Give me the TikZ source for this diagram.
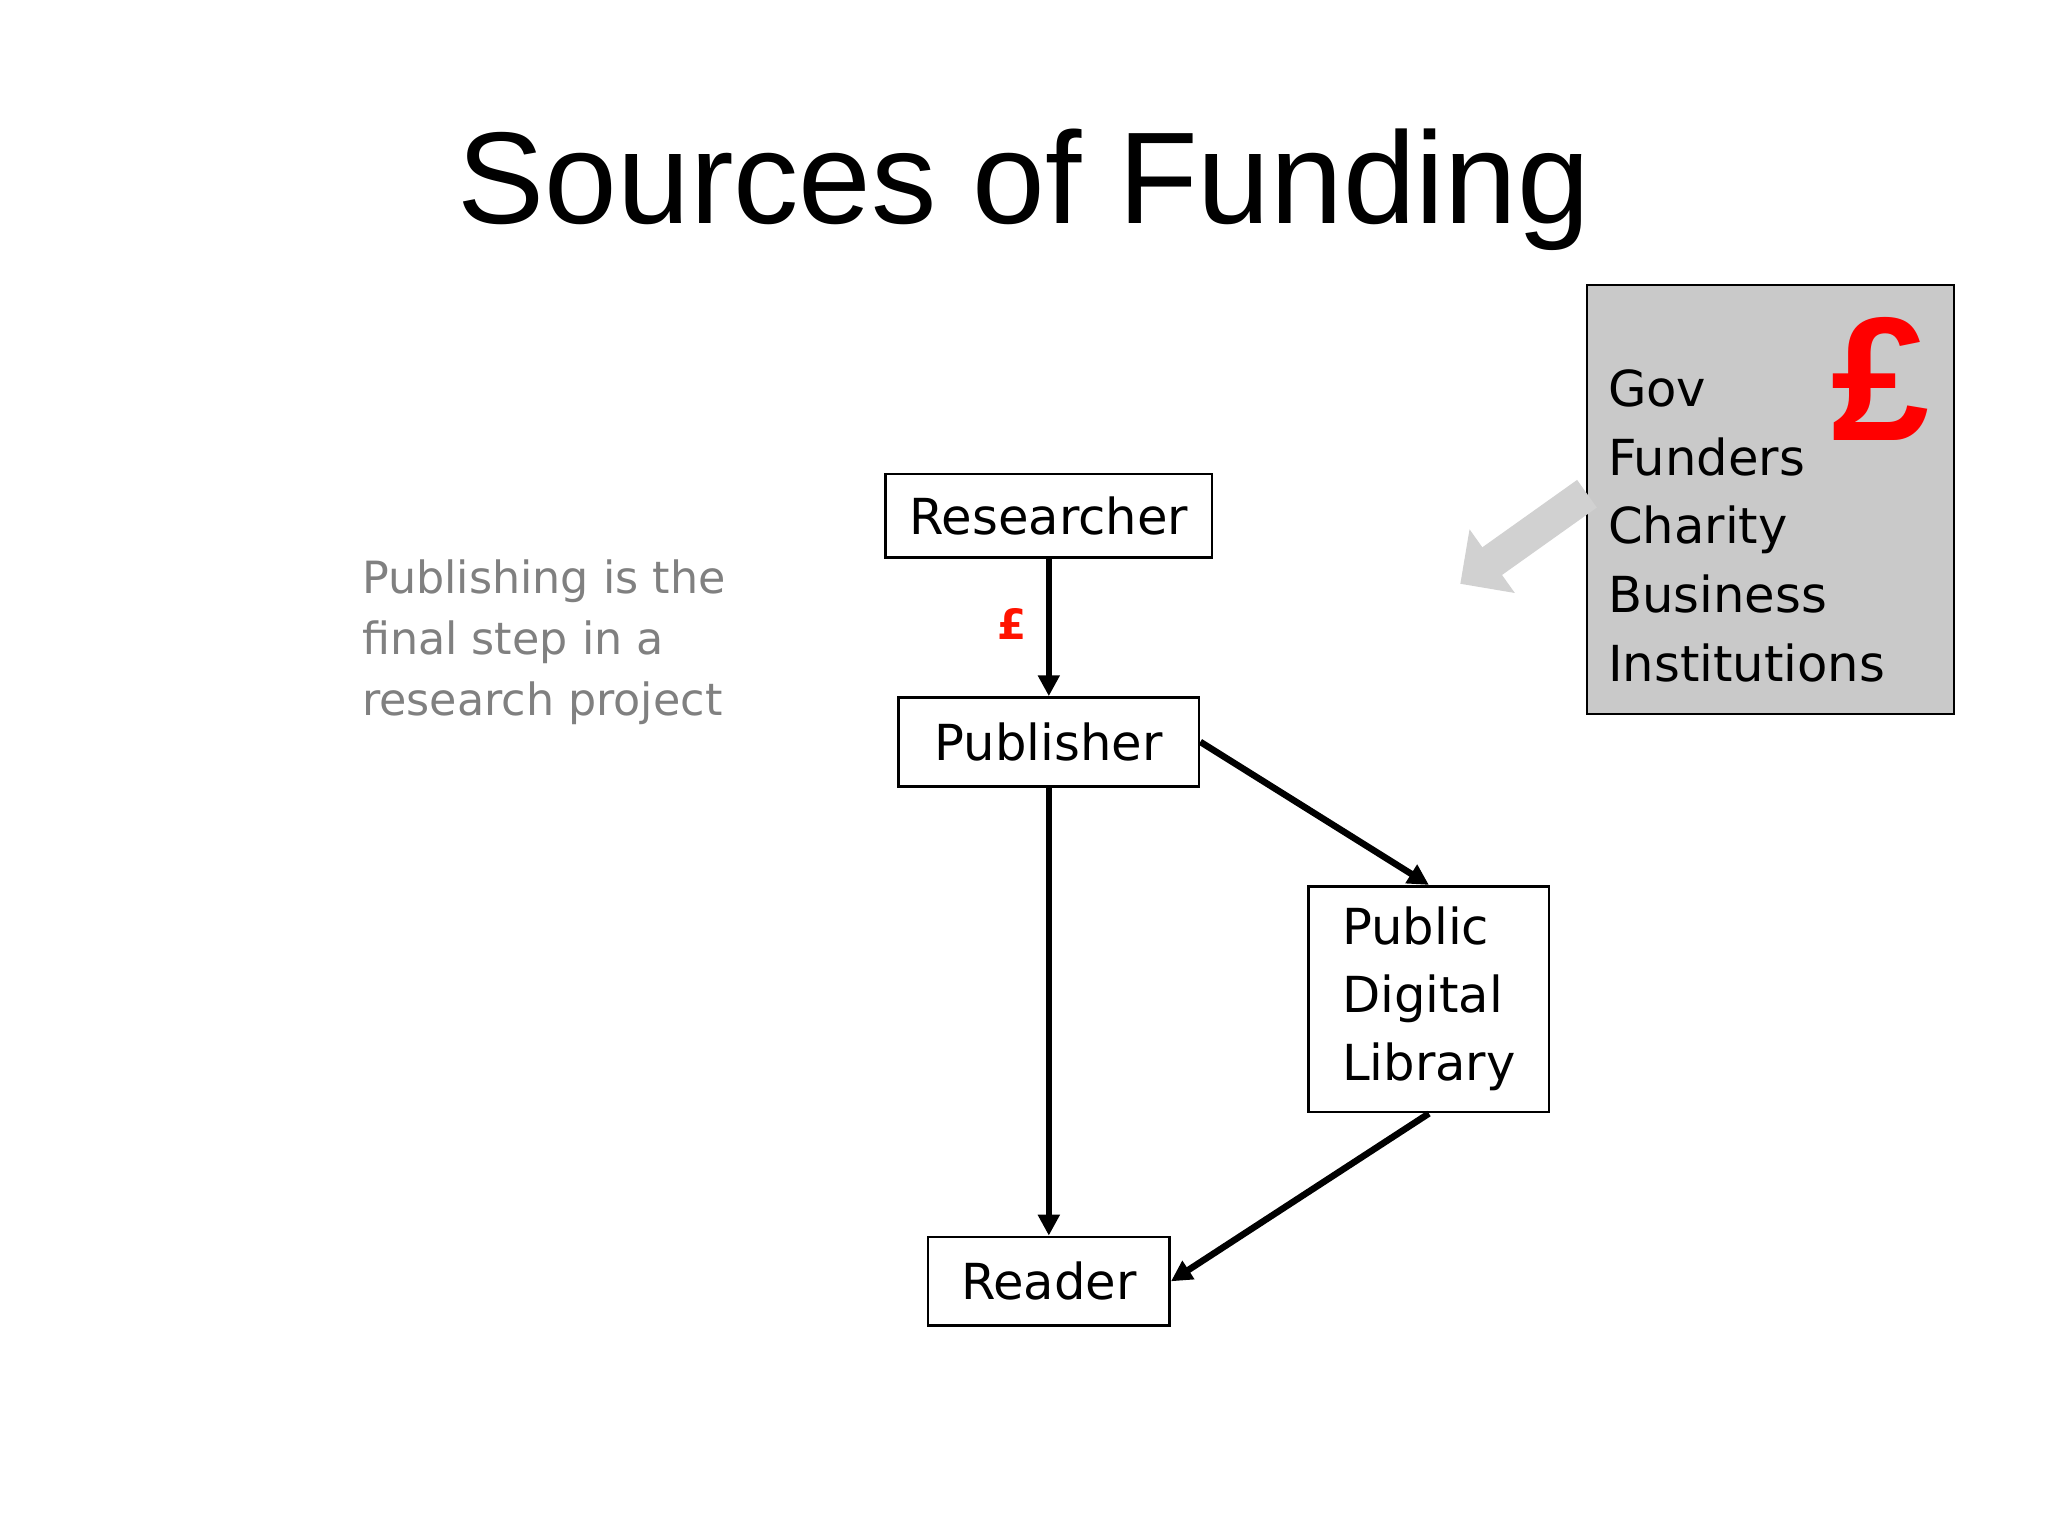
\documentclass[tikz,border=0pt]{standalone}
\usepackage{fontspec}
\setmainfont{DejaVu Sans}
\newfontfamily\titlefont{Liberation Sans}
\usetikzlibrary{arrows.meta}
\begin{document}
\begin{tikzpicture}[x=1pt,y=-1pt,
  box/.style={draw,line width=2pt,inner sep=0pt,font=\fontsize{38}{52}\selectfont},
  con/.style={line width=5pt,-{Triangle[length=16pt,width=16pt]}}]
\useasboundingbox (0,0) rectangle (1568,1176);
\node[font=\titlefont\fontsize{100}{110}\selectfont] (title) at (784,145) {Sources of Funding};
\node[box,minimum width=250pt,minimum height=64pt] (res) at (803,395) {Researcher};
\node[box,minimum width=230pt,minimum height=68pt] (pub) at (803,568) {Publisher};
\node[box,minimum width=184pt,minimum height=173pt,align=left] (pdl) at (1094,765) {Public\\Digital\\Library};
\node[box,minimum width=185pt,minimum height=68pt] (rea) at (803,981) {Reader};
\node[draw,line width=1.5pt,fill=black!21,minimum width=281pt,minimum height=329pt] (gov) at (1355.5,382.5) {};
\node[anchor=north west,align=left,font=\fontsize{38}{52.5}\selectfont,inner sep=0pt] (govt) at (1231,283) {Gov\\Funders\\Charity\\Business\\Institutions};
\node[text=red,font=\titlefont\bfseries\fontsize{135}{140}\selectfont] (bigp) at (1440,290) {£};
\node[text=red!85!orange,font=\bfseries\fontsize{32}{36}\selectfont] (smp) at (775,478) {£};
\node[anchor=north west,align=left,text=black!50,font=\fontsize{34}{47}\selectfont,inner sep=0pt] (side) at (277,428) {Publishing is the\\final step in a\\research project};
\coordinate (gtip) at (1118,447);
\draw[line width=26pt,draw=black!18,-{Triangle[length=30pt,width=58pt]}] (1215,378) -- (gtip);
\draw[con] (res) -- (pub);
\draw[con] (pub.east) -- (pdl.north);
\draw[con] (pdl.south) -- (rea.east);
\draw[con] (pub) -- (rea);
\end{tikzpicture}
\end{document}
